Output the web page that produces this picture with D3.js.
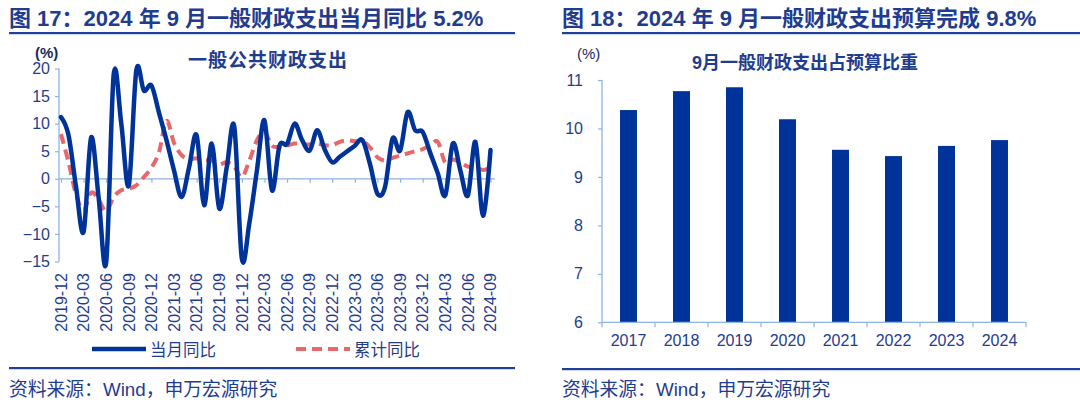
<!DOCTYPE html>
<html>
<head>
<meta charset="utf-8">
<script src="https://cdn.jsdelivr.net/npm/d3@7/dist/d3.min.js"></script>
<style>
  html, body { margin: 0; padding: 0; background: #ffffff; }
  svg { display: block; }
  text { font-family: "Liberation Sans", Arial, "Noto Sans CJK SC", sans-serif; }
</style>
</head>
<body>
<svg id="chart" width="1080" height="411"></svg>
<script>
// ---------- DATA ----------
const months = [
  "2019-12","2020-01","2020-02","2020-03","2020-04","2020-05","2020-06","2020-07","2020-08","2020-09","2020-10","2020-11",
  "2020-12","2021-01","2021-02","2021-03","2021-04","2021-05","2021-06","2021-07","2021-08","2021-09","2021-10","2021-11",
  "2021-12","2022-01","2022-02","2022-03","2022-04","2022-05","2022-06","2022-07","2022-08","2022-09","2022-10","2022-11",
  "2022-12","2023-01","2023-02","2023-03","2023-04","2023-05","2023-06","2023-07","2023-08","2023-09","2023-10","2023-11",
  "2023-12","2024-01","2024-02","2024-03","2024-04","2024-05","2024-06","2024-07","2024-08","2024-09"
];
// 当月同比 (%)
const monthlyYoY = [
  11.2, 7.9, -1.5, -9.6, 7.5, -3.5, -15.1, 19.0, 10.0, -1.2, 19.7, 16.0,
  16.9, 12.0, 7.0, 1.5, -3.3, 2.1, 7.9, -4.8, 6.4, -5.4, 2.1, 9.4,
  -14.5, -8.0, 1.5, 10.6, -2.1, 6.0, 6.3, 10.0, 7.0, 5.1, 8.8, 5.3,
  3.0, 4.0, 5.0, 6.0, 7.0, 2.7, -2.7, -1.5, 7.3, 5.1, 12.1, 8.8,
  8.5, 4.7, 1.0, -3.0, 6.4, 1.5, -3.0, 6.7, -6.7, 5.2
];
// 累计同比 (%)
const cumulativeYoY = [
  8.1, 3.0, -2.9, -5.7, -2.5, -3.8, -5.9, -3.3, -2.1, -1.8, -1.2, 0.3,
  2.0, 4.8, 10.5, 6.5, 4.3, 3.6, 3.7, 3.4, 3.3, 2.6, 3.0, 2.2,
  0.3, 3.3, 7.0, 8.5, 6.0, 5.8, 6.0, 6.4, 6.3, 6.2, 6.4, 6.1,
  6.1, 6.7, 7.0, 6.8, 6.8, 5.7, 3.9, 3.3, 3.8, 4.2, 4.6, 5.0,
  5.4, 6.0, 6.7, 2.9, 3.5, 3.0, 2.2, 2.1, 1.6, 2.0
];
const monthTickLabels = [
  "2019-12","2020-03","2020-06","2020-09","2020-12","2021-03","2021-06","2021-09","2021-12","2022-03",
  "2022-06","2022-09","2022-12","2023-03","2023-06","2023-09","2023-12","2024-03","2024-06","2024-09"
];
const leftYTicks = [-15, -10, -5, 0, 5, 10, 15, 20];

const years = ["2017","2018","2019","2020","2021","2022","2023","2024"];
const budgetShare = [10.38, 10.77, 10.85, 10.19, 9.56, 9.43, 9.64, 9.76];
const rightYTicks = [6, 7, 8, 9, 10, 11];

// ---------- STYLE ----------
const NAVY = "#1f3c8e";
const LINE_BLUE = "#003399";
const RED = "#e8676a";
const AXIS = "#8db3e2";

const svg = d3.select("#chart");

// ---------- LEFT PANEL ----------
svg.append("text").attr("x", 9).attr("y", 26)
  .attr("font-size", 22).attr("font-weight", "bold").attr("fill", NAVY)
  .text("图 17：2024 年 9 月一般财政支出当月同比 5.2%");
svg.append("rect").attr("x", 9).attr("y", 32).attr("width", 506).attr("height", 2.2).attr("fill", "#1f3f9a");

const xL = d3.scalePoint().domain(months).range([61, 490.5]);
const yL = d3.scaleLinear().domain([-15, 20]).range([261.5, 68.5]);

// y axis
const gyL = svg.append("g").attr("transform", "translate(59,0)")
  .call(d3.axisLeft(yL).tickValues(leftYTicks).tickSize(4).tickPadding(5).tickFormat(d3.format("d")));
gyL.select(".domain").attr("stroke", AXIS).attr("stroke-width", 1.3).attr("d", `M0,${yL(20)}V${yL(-15)}`);
gyL.selectAll(".tick line").attr("stroke", AXIS).attr("stroke-width", 1.2);
gyL.selectAll(".tick text").attr("fill", NAVY).attr("font-size", 16)
  .attr("font-family", "'Liberation Sans', Arial, sans-serif");

// x axis at zero
const gxL = svg.append("g").attr("transform", `translate(0,${yL(0)})`)
  .call(d3.axisBottom(xL).tickValues(monthTickLabels).tickSize(4).tickFormat(""));
gxL.select(".domain").attr("stroke", AXIS).attr("stroke-width", 1.3).attr("d", "M59,0H495");
gxL.selectAll(".tick line").attr("stroke", AXIS).attr("stroke-width", 1.2);

// rotated month labels (low position)
svg.append("g").selectAll("text").data(monthTickLabels).join("text")
  .attr("transform", d => `translate(${xL(d)},273) rotate(-90)`)
  .attr("text-anchor", "end").attr("dy", "0.36em")
  .attr("font-size", 16).attr("fill", NAVY)
  .text(d => d);

// lines
const lineGen = d3.line()
  .x(d => xL(d[0])).y(d => yL(d[1]))
  .curve(d3.curveCatmullRom.alpha(0));

svg.append("path")
  .datum(months.map((m, i) => [m, cumulativeYoY[i]]))
  .attr("d", lineGen).attr("fill", "none")
  .attr("stroke", RED).attr("stroke-width", 4).attr("stroke-dasharray", "10,6");

svg.append("path")
  .datum(months.map((m, i) => [m, monthlyYoY[i]]))
  .attr("d", lineGen).attr("fill", "none")
  .attr("stroke", LINE_BLUE).attr("stroke-width", 4.5).attr("stroke-linejoin", "round").attr("stroke-linecap", "round");

// chart labels
svg.append("text").attr("x", 35).attr("y", 58)
  .attr("font-size", 15).attr("font-weight", "bold").attr("fill", "#1a2a5a").text("(%)");
svg.append("text").attr("x", 268).attr("y", 67).attr("text-anchor", "middle")
  .attr("font-size", 19).attr("font-weight", "bold").attr("fill", NAVY).attr("letter-spacing", 1)
  .text("一般公共财政支出");

// legend
svg.append("line").attr("x1", 92).attr("x2", 146).attr("y1", 349).attr("y2", 349)
  .attr("stroke", LINE_BLUE).attr("stroke-width", 4.5);
svg.append("text").attr("x", 150).attr("y", 355.5).attr("font-size", 16.5).attr("fill", NAVY).text("当月同比");
svg.append("line").attr("x1", 296).attr("x2", 350).attr("y1", 349).attr("y2", 349)
  .attr("stroke", RED).attr("stroke-width", 4).attr("stroke-dasharray", "10,6");
svg.append("text").attr("x", 354).attr("y", 355.5).attr("font-size", 16.5).attr("fill", NAVY).text("累计同比");

svg.append("rect").attr("x", 9).attr("y", 367).attr("width", 506).attr("height", 2.2).attr("fill", "#1f3f9a");
svg.append("text").attr("x", 9).attr("y", 396).attr("font-size", 18.8).attr("fill", NAVY)
  .text("资料来源：Wind，申万宏源研究");

// ---------- RIGHT PANEL ----------
svg.append("text").attr("x", 562).attr("y", 26)
  .attr("font-size", 22).attr("font-weight", "bold").attr("fill", NAVY)
  .text("图 18：2024 年 9 月一般财政支出预算完成 9.8%");
svg.append("rect").attr("x", 562).attr("y", 32).attr("width", 518).attr("height", 2.2).attr("fill", "#1f3f9a");

const xR = d3.scaleBand().domain(years).range([602, 1026]).paddingInner(0.68).paddingOuter(0.34);
const yR = d3.scaleLinear().domain([6, 11]).range([322.3, 80]);

const gyR = svg.append("g").attr("transform", "translate(602,0)")
  .call(d3.axisLeft(yR).tickValues(rightYTicks).tickSize(4).tickPadding(15).tickFormat(d3.format("d")));
gyR.select(".domain").attr("stroke", AXIS).attr("stroke-width", 1.3).attr("d", `M0,${yR(11)}V${yR(6)}`);
gyR.selectAll(".tick line").attr("stroke", AXIS).attr("stroke-width", 1.2);
gyR.selectAll(".tick text").attr("fill", NAVY).attr("font-size", 16)
  .attr("font-family", "'Liberation Sans', Arial, sans-serif");

svg.append("g").selectAll("rect").data(years).join("rect")
  .attr("x", d => xR(d)).attr("width", xR.bandwidth())
  .attr("y", (d, i) => yR(budgetShare[i]))
  .attr("height", (d, i) => yR(6) - yR(budgetShare[i]))
  .attr("fill", LINE_BLUE);

// x axis with ticks at category boundaries
const step = xR.step();
const boundaries = years.map(d => xR(d) - step * xR.paddingInner() / 2).concat([xR(years[years.length - 1]) + xR.bandwidth() + step * xR.paddingInner() / 2]);
const gxR = svg.append("g");
gxR.append("line").attr("x1", 602).attr("x2", boundaries[boundaries.length - 1]).attr("y1", yR(6)).attr("y2", yR(6))
  .attr("stroke", AXIS).attr("stroke-width", 1.3);
gxR.selectAll("line.tk").data(boundaries).join("line").attr("class", "tk")
  .attr("x1", d => d).attr("x2", d => d).attr("y1", yR(6)).attr("y2", yR(6) + 5)
  .attr("stroke", AXIS).attr("stroke-width", 1.2);
gxR.selectAll("text").data(years).join("text")
  .attr("x", d => xR(d) + xR.bandwidth() / 2).attr("y", 346)
  .attr("text-anchor", "middle").attr("font-size", 16).attr("fill", NAVY).text(d => d);

svg.append("text").attr("x", 577).attr("y", 59)
  .attr("font-size", 15).attr("fill", "#1a2a5a").text("(%)");
svg.append("text").attr("x", 805).attr("y", 69).attr("text-anchor", "middle")
  .attr("font-size", 18).attr("font-weight", "bold").attr("fill", NAVY)
  .text("9月一般财政支出占预算比重");

svg.append("rect").attr("x", 562).attr("y", 368).attr("width", 518).attr("height", 2.2).attr("fill", "#1f3f9a");
svg.append("text").attr("x", 562).attr("y", 396).attr("font-size", 18.8).attr("fill", NAVY)
  .text("资料来源：Wind，申万宏源研究");
</script>
</body>
</html>
